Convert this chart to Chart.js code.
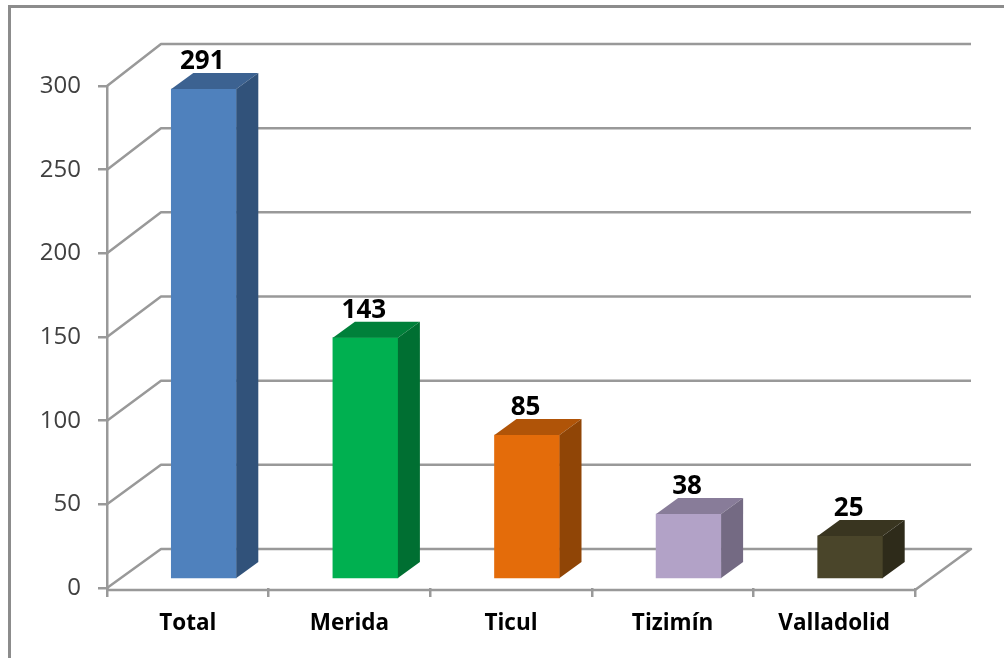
<!DOCTYPE html>
<html>
<head>
<meta charset="utf-8">
<title>Chart</title>
<script src="https://cdn.jsdelivr.net/npm/chart.js@4"></script>
<style>
  html, body { margin: 0; padding: 0; background: #fff; overflow: hidden; }
  #wrap { position: relative; width: 1004px; height: 658px; }
  #frame { position: absolute; left: 8px; top: 5px; right: 0; bottom: 0; border-left: 3px solid #8c8c8c; border-top: 3px solid #8c8c8c; }
  #chart { position: absolute; left: 0; top: 0; }
</style>
</head>
<body>
<div id="wrap">
  <div id="frame"></div>
  <canvas id="chart" width="1004" height="658"></canvas>
</div>
<script>
  const categories = ["Total", "Merida", "Ticul", "Tizimín", "Valladolid"];
  const values = [291, 143, 85, 38, 25];

  const frontColors = ["#4f81bd", "#00b050", "#e46c0a", "#b2a2c7", "#4a452a"];
  const topColors = ["#3c6291", "#00803a", "#b05408", "#887c99", "#393520"];
  const sideColors = ["#31527a", "#006f32", "#904506", "#746a83", "#2e2b1a"];

  const LINE = "#999999";
  const FONT = '"Open Sans", sans-serif';

  // bars sit a bit inside the floor, like the 3D column look
  const BAR_SHIFT = 16;
  const DEPTH_X = 22;
  const DEPTH_Y = 16;
  const WALL_X = 54;
  const WALL_Y = 42;

  function quad(ctx, pts, color) {
    ctx.fillStyle = color;
    ctx.beginPath();
    ctx.moveTo(pts[0][0], pts[0][1]);
    for (let i = 1; i < pts.length; i++) ctx.lineTo(pts[i][0], pts[i][1]);
    ctx.closePath();
    ctx.fill();
  }

  const box3d = {
    id: "box3d",
    beforeDatasetsDraw(chart) {
      const { ctx, chartArea: a, scales } = chart;
      const y = scales.y;
      ctx.save();
      ctx.strokeStyle = LINE;
      ctx.lineWidth = 2.5;
      ctx.lineJoin = "round";
      // walls
      y.ticks.forEach((t) => {
        const py = y.getPixelForValue(t.value);
        const by = a.top - WALL_Y + (py - a.top) * 1.006;
        ctx.beginPath();
        ctx.moveTo(a.left, py);
        ctx.lineTo(a.left + WALL_X, by);
        ctx.lineTo(a.right + 56, by);
        if (t.value === 0) {
          ctx.lineTo(a.right, a.bottom + 2);
          ctx.lineTo(a.left, a.bottom + 2);
        }
        ctx.stroke();
      });
      ctx.restore();
      ctx.save();
      ctx.translate(BAR_SHIFT, 0);
    },
    afterDatasetsDraw(chart) {
      const { ctx } = chart;
      const bars = chart.getDatasetMeta(0).data;
      bars.forEach((bar, i) => {
        const l = bar.x - bar.width / 2;
        const r = bar.x + bar.width / 2;
        quad(ctx, [[l, bar.y], [l + DEPTH_X, bar.y - DEPTH_Y], [r + DEPTH_X, bar.y - DEPTH_Y], [r, bar.y]], topColors[i]);
        quad(ctx, [[r, bar.y], [r + DEPTH_X, bar.y - DEPTH_Y], [r + DEPTH_X, bar.base - DEPTH_Y], [r, bar.base]], sideColors[i]);
        ctx.fillStyle = "#000";
        ctx.font = "bold 26px " + FONT;
        ctx.textAlign = "center";
        ctx.textBaseline = "alphabetic";
        ctx.fillText(String(values[i]), bar.x - 1.5, bar.y - 20);
      });
      ctx.restore();
    },
  };

  new Chart(document.getElementById("chart"), {
    type: "bar",
    data: {
      labels: categories,
      datasets: [
        {
          data: values,
          yAxisID: "yBars",
          backgroundColor: frontColors,
          borderWidth: 0,
          barThickness: 65,
          clip: false,
        },
      ],
    },
    options: {
      responsive: false,
      animation: false,
      layout: { padding: { left: 0, top: 86, right: 89, bottom: 0 } },
      plugins: { legend: { display: false }, tooltip: { enabled: false } },
      scales: {
        x: {
          afterFit(s) { s.height = 70; },
          border: { display: false },
          grid: { drawOnChartArea: false, color: LINE, lineWidth: 2.5, tickLength: 9 },
          ticks: { color: "#000", font: { family: FONT, size: 22.5, weight: "bold" }, padding: 13, maxRotation: 0 },
        },
        y: {
          min: 0,
          max: 300,
          afterFit(s) { s.width = 107; },
          border: { color: LINE, width: 2.5 },
          grid: { drawOnChartArea: false, color: LINE, lineWidth: 2.5, tickLength: 9 },
          ticks: { stepSize: 50, color: "#404040", font: { family: FONT, size: 24 }, padding: 17 },
        },
        // bars stand above the axis zero, so they get their own hidden scale
        yBars: { display: false, min: -6, max: 292.8 },
      },
    },
    plugins: [box3d],
  });
</script>
</body>
</html>
